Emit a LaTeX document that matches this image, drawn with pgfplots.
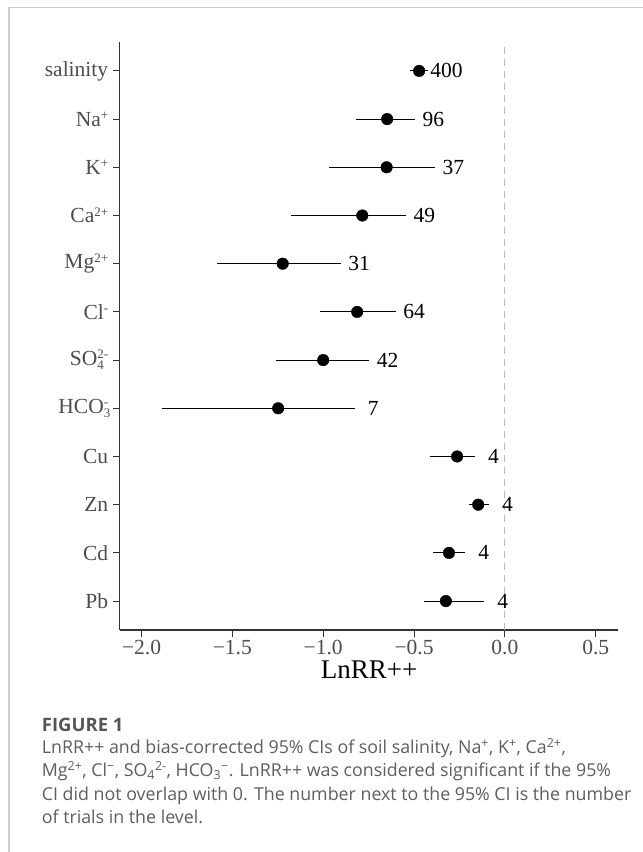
\documentclass[border=0pt]{standalone}
\usepackage{fontspec}
\setmainfont{Liberation Serif}
\newfontfamily\capfont{Open Sans}
\usepackage{pgfplots}
\pgfplotsset{compat=1.18}
\usepackage{pgfplotstable}
\definecolor{grey30}{HTML}{4D4D4D}
\definecolor{grey20}{HTML}{333333}
\definecolor{framegray}{HTML}{CCCCCC}
\definecolor{capgray}{HTML}{5E5E5E}
\definecolor{capdark}{HTML}{555555}
\definecolor{vgray}{HTML}{B8B8B8}
\newcommand{\sups}[1]{\raisebox{6.5pt}{\fontsize{13}{13}\selectfont #1}}
\newcommand{\subsup}[2]{\rlap{\raisebox{-4.5pt}{\fontsize{13}{13}\selectfont #1}}\raisebox{6.5pt}{\fontsize{13}{13}\selectfont #2}}

% y: 12 = salinity ... 1 = Pb ; m = LnRR++, lo/hi = 95% CI, n = trials
\pgfplotstableread{
y  m       lo      hi      n
12 -0.472  -0.523  -0.424  400
11 -0.648  -0.820  -0.495  96
10 -0.651  -0.970  -0.385  37
9  -0.785  -1.179  -0.545  49
8  -1.223  -1.585  -0.904  31
7  -0.813  -1.018  -0.602  64
6  -1.000  -1.262  -0.747  42
5  -1.248  -1.889  -0.826  7
4  -0.263  -0.411  -0.165  4
3  -0.147  -0.200  -0.088  4
2  -0.308  -0.396  -0.218  4
1  -0.325  -0.447  -0.114  4
}\datatable

\begin{document}
\begin{tikzpicture}[x=1pt,y=1pt]
\fill[white] (0,0) rectangle (643,852);
\path[use as bounding box] (0,0) rectangle (643,852);
\draw[framegray, line width=1.3pt] (9,-1) -- (9,844.7) -- (644,844.7);
\begin{axis}[
  at={(119.7pt,222pt)}, anchor=south west,
  scale only axis, width=498.6pt, height=588pt,
  xmin=-2.12, xmax=0.624, ymin=0.4, ymax=12.6,
  axis x line*=bottom, axis y line*=left,
  axis line style={-, grey20, line width=1.1pt},
  tick align=outside, major tick length=7pt,
  tick style={grey20, line width=1.1pt},
  xtick={-2,-1.5,-1,-0.5,0,0.5},
  xticklabels={−2.0,−1.5,−1.0,−0.5,0.0,0.5},
  ytick={1,2,3,4,5,6,7,8,9,10,11,12},
  yticklabels={Pb,Cd,Zn,Cu,HCO\subsup{3}{-},SO\subsup{4}{2-},Cl\sups{-},Mg\sups{2+},Ca\sups{2+},K\sups{+},Na\sups{+},salinity},
  ticklabel style={font=\fontsize{21.5}{25}\selectfont, text=grey30},
  xticklabel style={yshift=0pt},
  yticklabel style={xshift=-1pt},
  xlabel={LnRR++},
  xlabel style={font=\fontsize{27}{31}\selectfont, text=black, yshift=1pt},
  clip=false,
]
\addplot[vgray, line width=1pt, dash pattern=on 7pt off 5pt] coordinates {(0,0.4) (0,12.6)};
\addplot[black, line width=1pt, mark=none, draw=none,
  error bars/.cd, x dir=both, x explicit, error mark=none,
  error bar style={black, line width=1pt}]
  table[x=m, y=y, x error plus expr=\thisrow{hi}-\thisrow{m}, x error minus expr=\thisrow{m}-\thisrow{lo}] {\datatable};
\addplot[only marks, mark=*, mark size=5.8pt, black] table[x=m, y=y] {\datatable};
\addplot[only marks, mark=none, point meta=explicit symbolic,
  nodes near coords, nodes near coords align={center},
  every node near coord/.append style={anchor=center, xshift=18.5pt, yshift=0pt, font=\fontsize{21.5}{25}\selectfont, text=black}]
  table[x=hi, y=y, meta=n] {\datatable};
\end{axis}
\node[anchor=base west, font=\capfont\bfseries\fontsize{18.5}{22}\selectfont, text=capdark, inner sep=0pt] at (41.7,120) {FIGURE 1};
\begin{scope}[every node/.style={anchor=base west, font=\capfont\fontsize{17.8}{21}\selectfont, text=capgray, inner sep=0pt}]
\node at (41.7,98.7) {LnRR++ and bias-corrected 95\% CIs of soil salinity, Na\textsuperscript{+}, K\textsuperscript{+}, Ca\textsuperscript{2+},};
\node at (41.7,75.2) {Mg\textsuperscript{2+}, Cl\textsuperscript{−}, SO\textsubscript{4}\textsuperscript{2-}, HCO\textsubscript{3}\textsuperscript{−}. LnRR++ was considered significant if the 95\%};
\node at (41.7,51.7) {CI did not overlap with 0. The number next to the 95\% CI is the number};
\node at (41.7,28.2) {of trials in the level.};
\end{scope}
\end{tikzpicture}
\end{document}
